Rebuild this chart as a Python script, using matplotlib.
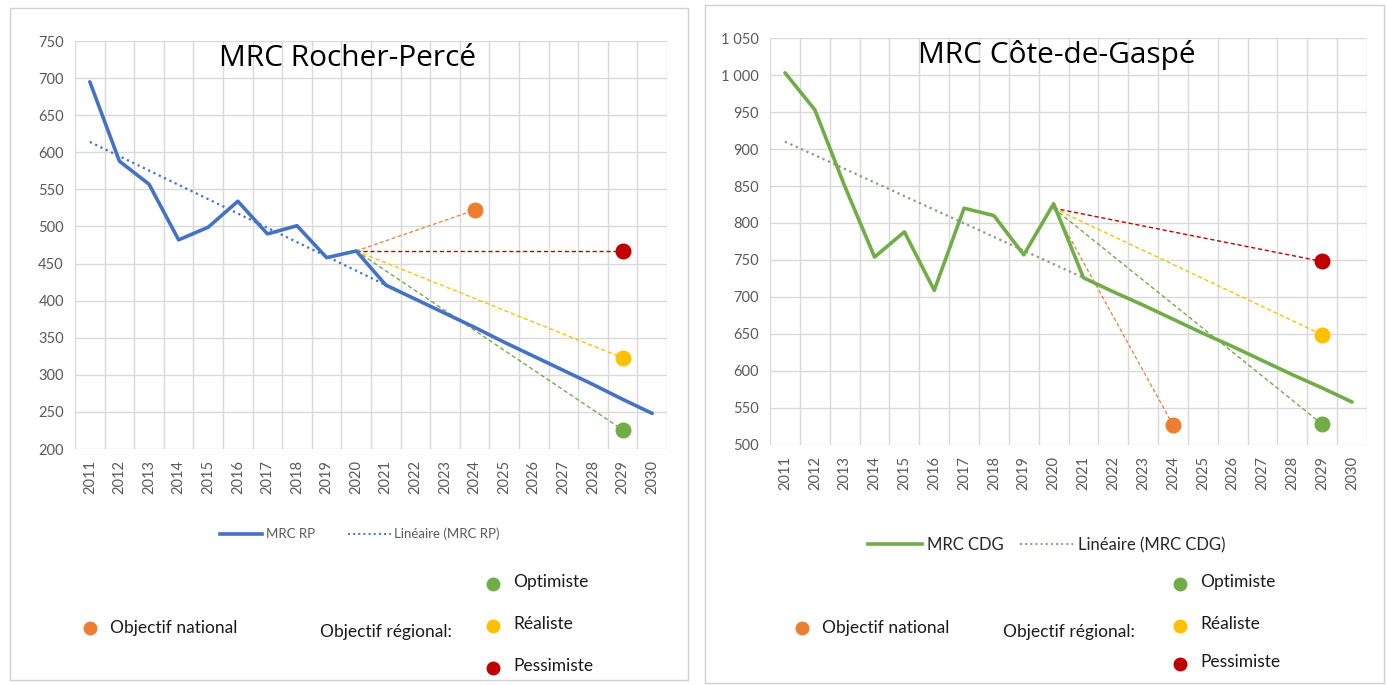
import matplotlib.pyplot as plt
from matplotlib.lines import Line2D
from matplotlib.patches import Rectangle
from matplotlib.ticker import FuncFormatter

plt.rcParams['font.family'] = ['Lato', 'DejaVu Sans']

# Données
annees = list(range(2011, 2031))

rp_valeurs = [695, 588, 557, 482, 499, 534, 490, 501, 458, 467, 421,
              402, 383, 364, 344, 325, 306, 287, 267, 248]
rp_tendance = [614, 421]          # Linéaire (MRC RP), 2011 -> 2021
rp_depart = 467                   # 2020
rp_national = 522                 # 2024
rp_optimiste = 226                # 2029
rp_realiste = 323
rp_pessimiste = 467

cdg_valeurs = [1003, 953, 850, 754, 788, 709, 820, 810, 757, 826, 726,
               707, 689, 670, 651, 633, 614, 595, 577, 558]
cdg_tendance = [910, 726]         # Linéaire (MRC CDG), 2011 -> 2021
cdg_depart = 820
cdg_national = 527
cdg_optimiste = 528
cdg_realiste = 649
cdg_pessimiste = 748

BLEU = '#4472C4'
VERT = '#70AD47'
ORANGE = '#ED7D31'
JAUNE = '#FFC000'
ROUGE = '#C00000'
GRIS = '#595959'

fig = plt.figure(figsize=(13.87, 6.85), dpi=100)


def milliers(v, pos):
    return f'{int(v):,}'.replace(',', '\u00a0')


def graphique(ax, titre, valeurs, tendance, couleur, couleur_tend, depart,
              national, opt, real, pess, ymin, ymax, titre_x):
    ax.set_xlim(2010.5, 2030.5)
    ax.set_ylim(ymin, ymax)
    ax.set_yticks(range(ymin, ymax + 1, 50))
    ax.yaxis.set_major_formatter(FuncFormatter(milliers))
    ax.set_xticks(annees)
    ax.set_xticklabels([str(a) for a in annees], rotation=90)
    ax.set_xticks([a + 0.5 for a in range(2010, 2031)], minor=True)
    ax.grid(True, which='minor', axis='x', color='#d9d9d9', lw=1)
    ax.grid(True, which='major', axis='y', color='#d9d9d9', lw=1)
    ax.tick_params(which='both', length=0, colors=GRIS, labelsize=10.5, pad=8)
    for s in ax.spines.values():
        s.set_visible(False)

    # scénarios
    ax.plot([2020, 2024], [depart, national], '--', color=ORANGE, lw=0.9, dashes=(3, 2))
    ax.plot([2020, 2029], [depart, pess], '--', color=ROUGE, lw=1.0, dashes=(3, 2))
    ax.plot([2020, 2029], [depart, real], '--', color=JAUNE, lw=1.0, dashes=(3, 2))
    ax.plot([2020, 2029], [depart, opt], '--', color=VERT, lw=1.0, dashes=(3, 2))

    ax.plot([2011, 2021], tendance, ':', color=couleur_tend, lw=1.6)
    ax.plot(annees, valeurs, color=couleur, lw=2.6, solid_capstyle='round')

    ax.plot([2024], [national], 'o', color=ORANGE, ms=10.5)
    ax.plot([2029], [pess], 'o', color=ROUGE, ms=10.5)
    ax.plot([2029], [real], 'o', color=JAUNE, ms=10.5)
    ax.plot([2029], [opt], 'o', color=VERT, ms=10.5)

    ax.text(titre_x, 0.958, titre, transform=ax.transAxes, ha='center',
            va='center', fontsize=21.5, color='black', family=['Open Sans', 'DejaVu Sans'])


ax1 = fig.add_axes([0.0541, 0.3445, 0.4268, 0.5956])
graphique(ax1, 'MRC Rocher-Percé', rp_valeurs, rp_tendance, BLEU, BLEU,
          rp_depart, rp_national, rp_optimiste, rp_realiste, rp_pessimiste,
          200, 750, 0.461)

ax2 = fig.add_axes([0.5552, 0.3504, 0.4304, 0.5941])
graphique(ax2, 'MRC Côte-de-Gaspé', cdg_valeurs, cdg_tendance, VERT, '#8a9a80',
          cdg_depart, cdg_national, cdg_optimiste, cdg_realiste, cdg_pessimiste,
          500, 1050, 0.481)

# cadres des deux graphiques
W, H = 1387, 685
for x0, y0, x1, y1 in [(10, 8, 688, 680), (705, 5, 1384, 683)]:
    fig.add_artist(Rectangle((x0 / W, 1 - y1 / H), (x1 - x0) / W, (y1 - y0) / H,
                             transform=fig.transFigure, fill=False,
                             edgecolor='#d0d0d0', lw=1))

# légendes des séries
h1 = [Line2D([], [], color=BLEU, lw=2.6), Line2D([], [], color=BLEU, lw=1.4, ls=':')]
fig.legend(h1, ['MRC RP', 'Linéaire (MRC RP)'], loc='center',
           bbox_to_anchor=(360 / W, 1 - 534 / H), ncol=2, frameon=False,
           fontsize=9.5, labelcolor=GRIS, handlelength=3.2, columnspacing=2.5,
           handletextpad=0.3)
h2 = [Line2D([], [], color=VERT, lw=2.6), Line2D([], [], color='#8a9a80', lw=1.4, ls=':')]
fig.legend(h2, ['MRC CDG', 'Linéaire (MRC CDG)'], loc='center',
           bbox_to_anchor=(1047 / W, 1 - 545 / H), ncol=2, frameon=False,
           fontsize=12, labelcolor='#262626', handlelength=3.2, columnspacing=1.0,
           handletextpad=0.3)


# légendes des objectifs
def point(px, py, couleur):
    fig.add_artist(Line2D([px / W], [1 - py / H], marker='o', color=couleur, ms=9,
                          transform=fig.transFigure, ls='none'))


def texte(px, py, s):
    fig.text(px / W, 1 - py / H, s, ha='left', va='center', fontsize=12.5, color='#1a1a1a')


for nat_x, obj_x, pt_x, ys in [(90, 320, 493, (584, 626, 668)),
                               (802, 1003, 1180, (584, 626, 664))]:
    point(nat_x, 628, ORANGE)
    texte(nat_x + 20, 628, 'Objectif national')
    texte(obj_x, 632, 'Objectif régional:')
    for y, c, lab in zip(ys, [VERT, JAUNE, ROUGE], ['Optimiste', 'Réaliste', 'Pessimiste']):
        point(pt_x, y, c)
        texte(pt_x + 20, y - 2, lab)

fig.savefig('out.png', dpi=100)
